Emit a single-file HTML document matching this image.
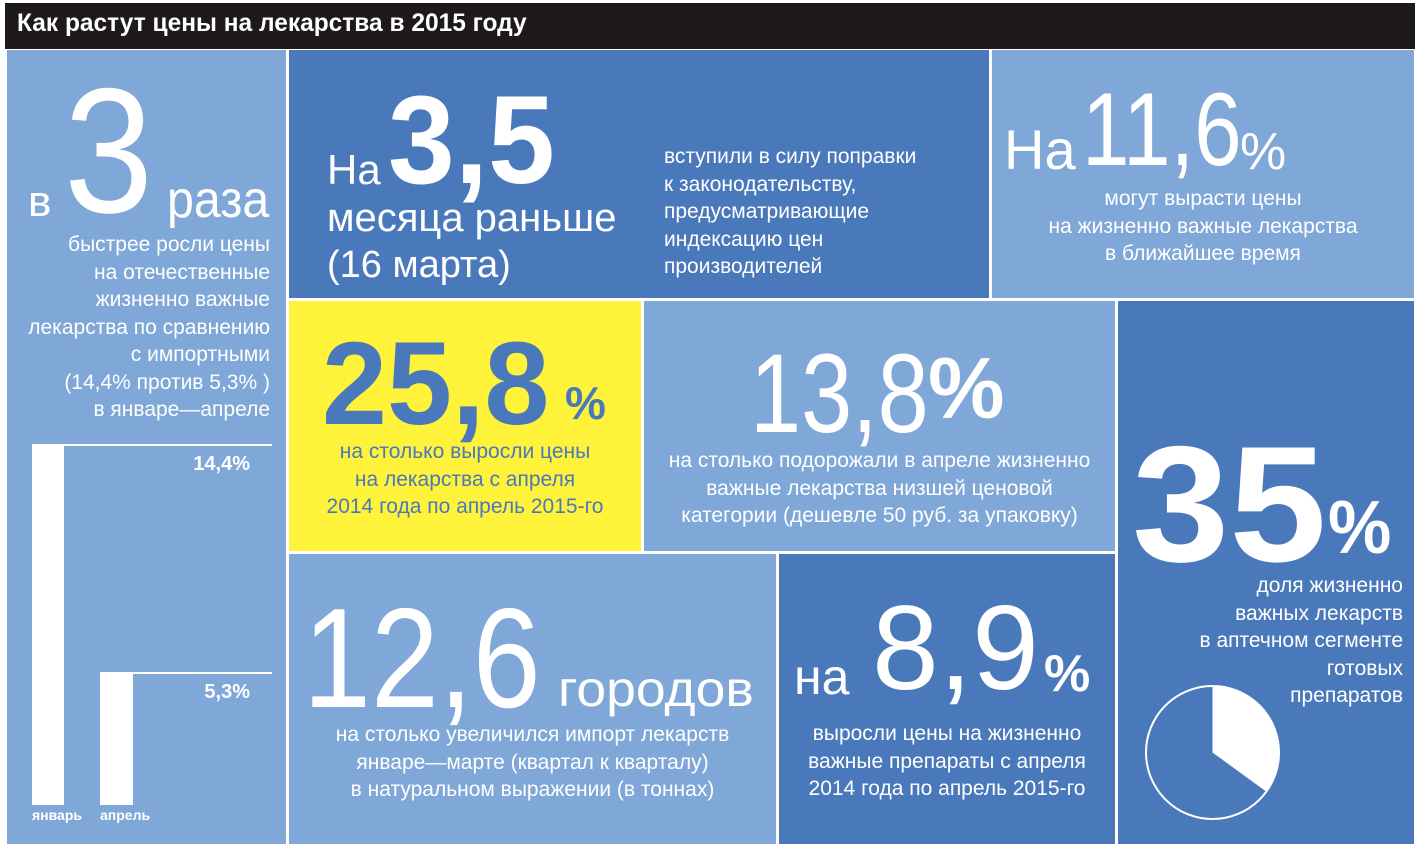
<!DOCTYPE html>
<html><head><meta charset="utf-8"><style>
body{margin:0;width:1417px;height:847px;background:#fff;position:relative;overflow:hidden;font-family:"Liberation Sans","DejaVu Sans",sans-serif;color:#fff}
.p{position:absolute}
.L{background:#7fa7d7}.D{background:#4a79bb}.Y{background:#fff23a}
.t{position:absolute;white-space:nowrap;line-height:1}
.s{font-size:21px;line-height:27.5px;position:absolute;white-space:nowrap}
</style></head><body>
<div class="p" style="left:5px;top:3px;width:1410px;height:46px;background:#1e1a1a"></div>
<div class="t" style="left:17px;top:11px;font-size:25px;font-weight:bold;transform:scaleX(0.98);transform-origin:left">Как растут цены на лекарства в 2015 году</div>

<div class="p L" style="left:7px;top:50px;width:279px;height:794px"></div>
<div class="p D" style="left:289px;top:50px;width:700px;height:248px"></div>
<div class="p L" style="left:992px;top:50px;width:422px;height:248px"></div>
<div class="p Y" style="left:289px;top:301px;width:352px;height:250px"></div>
<div class="p L" style="left:644px;top:301px;width:471px;height:250px"></div>
<div class="p D" style="left:1118px;top:301px;width:296px;height:543px"></div>
<div class="p L" style="left:289px;top:554px;width:487px;height:290px"></div>
<div class="p D" style="left:779px;top:554px;width:336px;height:290px"></div>

<!-- left -->
<div class="t" style="left:28px;top:180px;font-size:44px">в</div>
<div class="t" style="left:64px;top:62px;font-size:178px;font-weight:100;transform:scaleX(0.9);transform-origin:left">3</div>
<div class="t" style="left:167px;top:174px;font-size:52px;transform:scaleX(0.93);transform-origin:left">раза</div>
<div class="s" style="right:1147px;top:231px;text-align:right">быстрее росли цены<br>на отечественные<br>жизненно важные<br>лекарства по сравнению<br>с импортными<br>(14,4% против 5,3% )<br>в январе—апреле</div>
<div class="p" style="left:32px;top:444px;width:32px;height:361px;background:#fff"></div>
<div class="p" style="left:64px;top:444px;width:208px;height:2px;background:#fff"></div>
<div class="t" style="right:1167px;top:454px;font-size:20px;font-weight:bold">14,4%</div>
<div class="p" style="left:100px;top:672px;width:33px;height:133px;background:#fff"></div>
<div class="p" style="left:133px;top:672px;width:139px;height:2px;background:#fff"></div>
<div class="t" style="right:1167px;top:682px;font-size:20px;font-weight:bold">5,3%</div>
<div class="t" style="left:32px;top:808px;font-size:14px;font-weight:bold">январь</div>
<div class="t" style="left:100px;top:808px;font-size:14px;font-weight:bold">апрель</div>

<!-- top mid -->
<div class="t" style="left:327px;top:149px;font-size:42px">На</div>
<div class="t" style="left:388px;top:78px;font-size:125px;font-weight:bold;transform:scaleX(0.96);transform-origin:left">3,5</div>
<div class="t" style="left:327px;top:198px;font-size:40px">месяца раньше</div>
<div class="t" style="left:327px;top:246px;font-size:38px">(16 марта)</div>
<div class="s" style="left:664px;top:143px">вступили в силу поправки<br>к законодательству,<br>предусматривающие<br>индексацию цен<br>производителей</div>

<!-- top right -->
<div class="t" style="left:1004px;top:122px;font-size:56px">На</div>
<div class="t" style="left:1082px;top:78px;font-size:104px;font-weight:100;transform:scaleX(0.82);transform-origin:left">11,6</div>
<div class="t" style="left:1240px;top:126px;font-size:52px">%</div>
<div class="s" style="left:992px;width:422px;text-align:center;top:185px">могут вырасти цены<br>на жизненно важные лекарства<br>в ближайшее время</div>

<!-- yellow -->
<div class="t" style="left:322px;top:325px;font-size:118px;font-weight:bold;color:#4a79bb;transform:scaleX(0.99);transform-origin:left">25,8</div>
<div class="t" style="left:565px;top:380px;font-size:46px;font-weight:bold;color:#4a79bb">%</div>
<div class="s" style="left:289px;width:352px;text-align:center;top:438px;color:#4a79bb">на столько выросли цены<br>на лекарства с апреля<br>2014 года по апрель 2015-го</div>

<!-- mid light -->
<div class="t" style="left:750px;top:338px;font-size:112px;font-weight:100;transform:scaleX(0.82);transform-origin:left">13,8</div>
<div class="t" style="left:928px;top:346px;font-size:86px;font-weight:bold;transform:scaleX(1.0);transform-origin:left">%</div>
<div class="s" style="left:644px;width:471px;text-align:center;top:447px">на столько подорожали в апреле жизненно<br>важные лекарства низшей ценовой<br>категории (дешевле 50 руб. за упаковку)</div>

<!-- right dark -->
<div class="t" style="left:1132px;top:422px;font-size:165px;font-weight:bold;transform:scaleX(1.06);transform-origin:left">35</div>
<div class="t" style="left:1328px;top:490px;font-size:75px;font-weight:bold;transform:scaleX(0.95);transform-origin:left">%</div>
<div class="s" style="right:14px;text-align:right;top:572px">доля жизненно<br>важных лекарств<br>в аптечном сегменте<br>готовых<br>препаратов</div>
<svg class="p" style="left:1140px;top:680px" width="145" height="145" viewBox="0 0 145 145">
<circle cx="72.5" cy="72.5" r="66.5" fill="none" stroke="#fff" stroke-width="2"/>
<path d="M72.5 72.5 L72.5 6 A66.5 66.5 0 0 1 126.3 111.6 Z" fill="#fff"/>
</svg>

<!-- bottom light -->
<div class="t" style="left:303px;top:588px;font-size:142px;font-weight:100;transform:scaleX(0.86);transform-origin:left">12,6</div>
<div class="t" style="left:558px;top:664px;font-size:50px;transform:scaleX(1.07);transform-origin:left">городов</div>
<div class="s" style="left:289px;width:487px;text-align:center;top:721px">на столько увеличился импорт лекарств<br>январе—марте (квартал к кварталу)<br>в натуральном выражении (в тоннах)</div>

<!-- bottom dark -->
<div class="t" style="left:794px;top:652px;font-size:50px">на</div>
<div class="t" style="left:872px;top:588px;font-size:120px;transform:scaleX(1.0);transform-origin:left">8,9</div>
<div class="t" style="left:1044px;top:648px;font-size:52px;font-weight:bold">%</div>
<div class="s" style="left:779px;width:336px;text-align:center;top:720px">выросли цены на жизненно<br>важные препараты с апреля<br>2014 года по апрель 2015-го</div>
</body></html>
